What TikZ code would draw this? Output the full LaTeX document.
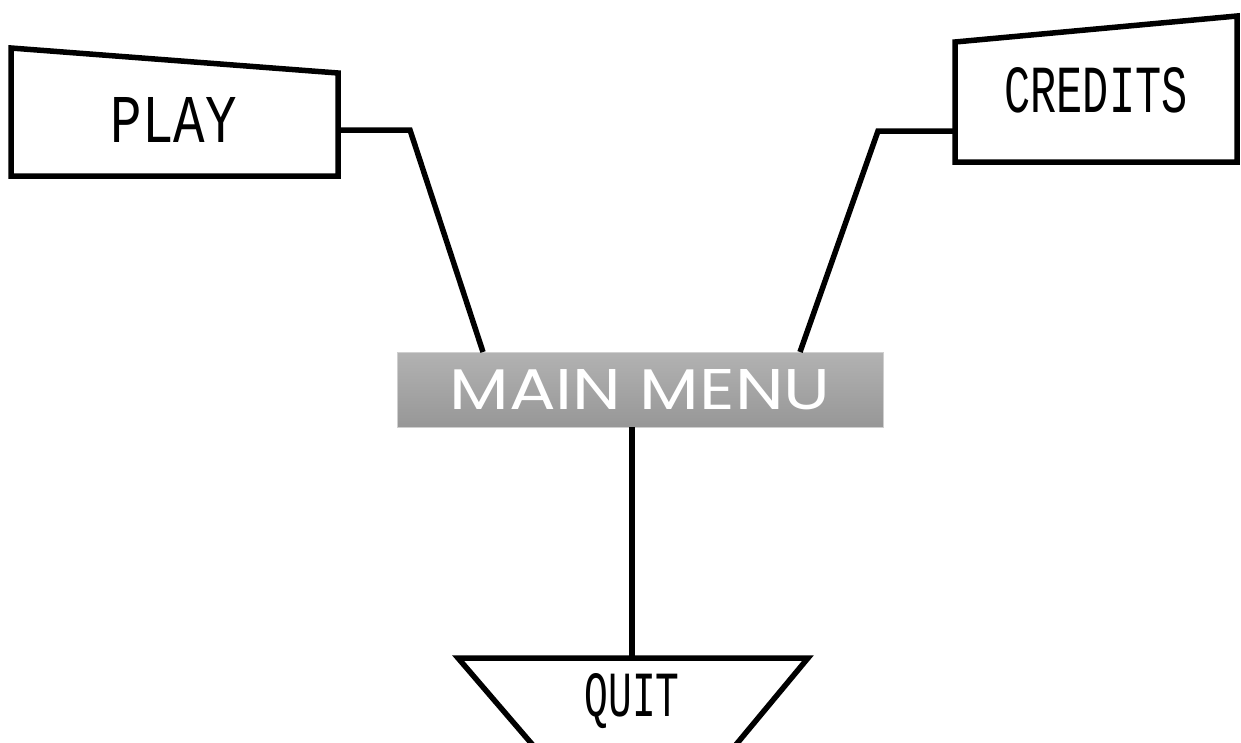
\documentclass[tikz,border=0pt]{standalone}
\usepackage{fontspec}
\setmainfont{Liberation Sans}
\newfontfamily\lcdfont{Liberation Mono}
\newfontfamily\menufont{Poppins}
\definecolor{menutop}{HTML}{B2B2B2}
\definecolor{menubot}{HTML}{979797}
\definecolor{menuedge}{HTML}{CFCFCF}
\tikzset{
  outline/.style={draw=black, line width=5.5pt, line join=miter},
  wire/.style={draw=black, line width=5.5pt, line join=miter},
  lcd/.style={inner sep=0pt, font=\lcdfont},
}
\begin{document}
\begin{tikzpicture}[x=1pt,y=-1pt]
\clip (0,0) rectangle (1241,742);
\fill[white] (0,0) rectangle (1241,742);
% PLAY box
\draw[outline] (11,48) -- (338,73) -- (338,176) -- (11,176) -- cycle;
\node[lcd] (play) at (174,120) {\resizebox{126pt}{45pt}{PLAY}};
\coordinate (playport) at (338,130);
% CREDITS box
\draw[outline] (955,42) -- (1237,16) -- (1237,162) -- (955,162) -- cycle;
\node[lcd] (credits) at (1096,90) {\resizebox{183pt}{45pt}{CREDITS}};
\coordinate (creditsport) at (955,131);
% MAIN MENU
\shade[top color=menutop, bottom color=menubot] (397,352) rectangle (883,427);
\draw[menuedge, line width=1pt] (397,352) rectangle (883,427);
\node[inner sep=0pt, text=white, font=\menufont] (main) at (640,389.5) {\resizebox{381pt}{40pt}{MAIN MENU}};
\coordinate (mainplay) at (483,352);
\coordinate (maincredits) at (800,352);
\coordinate (mainquit) at (632,427);
% QUIT
\draw[outline] (458,658) -- (808,658) -- (690,800) -- (580,800) -- cycle;
\node[lcd] (quit) at (632,701) {\resizebox{95pt}{43pt}{QUIT}};
\coordinate (quitport) at (632,658);
% connectors
\draw[wire] (playport) -- (410,130) -- (mainplay);
\draw[wire] (creditsport) -- (878,131) -- (maincredits);
\draw[wire] (mainquit) -- (quitport);
\end{tikzpicture}
\end{document}
